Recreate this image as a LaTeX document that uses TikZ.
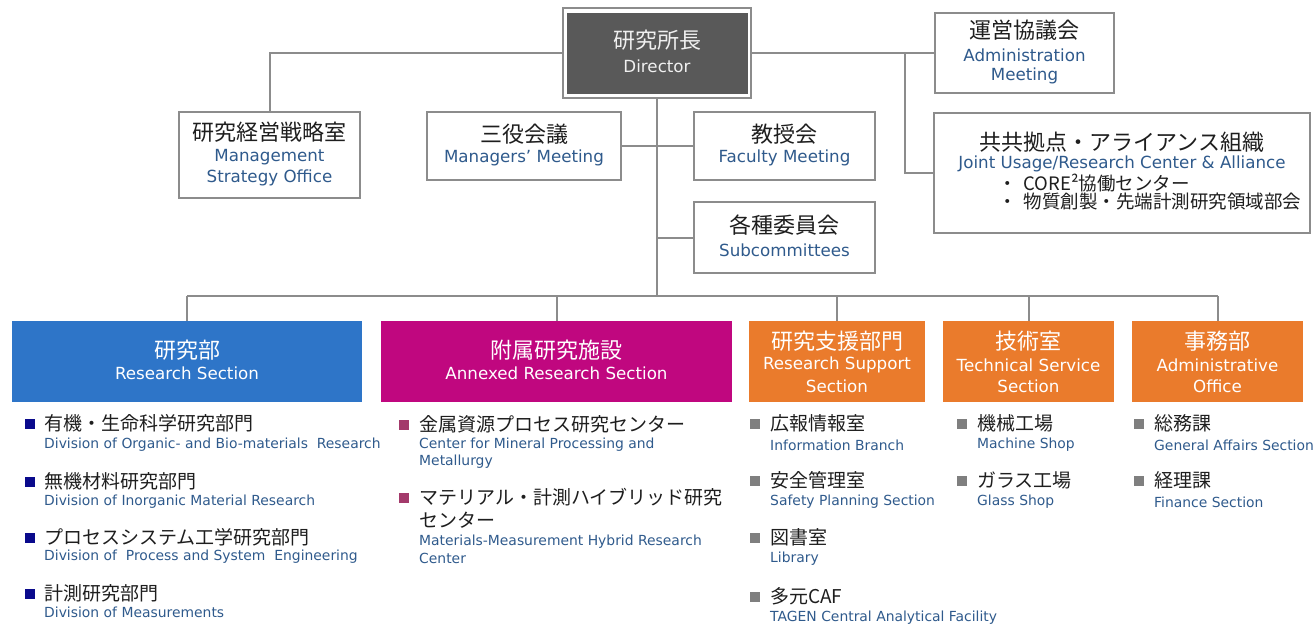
\documentclass[tikz,border=0pt]{standalone}
\usepackage{fontspec}
\setmainfont{DejaVu Sans}
\newfontfamily\jp{Noto Sans CJK JP}
\definecolor{linegray}{HTML}{8C8C8C}
\definecolor{dirfill}{HTML}{595959}
\definecolor{rsblue}{HTML}{2E75C8}
\definecolor{armag}{HTML}{C0077F}
\definecolor{orng}{HTML}{EA7B2C}
\definecolor{engblue}{HTML}{2F5A8C}
\definecolor{navy}{HTML}{0A0A8C}
\definecolor{plum}{HTML}{A33A6B}
\definecolor{sqgray}{HTML}{7F7F7F}
\definecolor{txt}{HTML}{1E1E1E}
\tikzset{
  box/.style={draw=linegray, line width=2pt, fill=white, rectangle, inner sep=0pt},
  sect/.style={rectangle, inner sep=0pt, minimum height=81pt},
  conn/.style={draw=linegray, line width=2pt},
  jpt/.style={font=\jp\fontsize{22}{26}\selectfont, text=txt, inner sep=0pt},
  ent/.style={font=\fontsize{16.7}{20}\selectfont, text=engblue, inner sep=0pt},
  wjp/.style={font=\jp\fontsize{22}{26}\selectfont, text=white, inner sep=0pt},
  wen/.style={font=\fontsize{16.7}{20}\selectfont, text=white, inner sep=0pt},
  jpi/.style={font=\jp\fontsize{19}{23}\selectfont, text=txt, anchor=west, inner sep=0pt},
  eni/.style={font=\fontsize{13.9}{16.5}\selectfont, text=engblue, anchor=west, inner sep=0pt},
  jps/.style={font=\jp\fontsize{18.5}{22}\selectfont, text=txt, anchor=west, inner sep=0pt},
  sq/.style={rectangle, minimum size=10pt, inner sep=0pt},
}
\begin{document}
\begin{tikzpicture}[x=1pt,y=-1pt]
\useasboundingbox (0,0) rectangle (1313,630);
% Director
\node[box, line width=1.6pt, minimum width=188pt, minimum height=90pt] (dir) at (657,53) {};
\node[rectangle, fill=dirfill, minimum width=181pt, minimum height=81pt, inner sep=0pt] (dirin) at (657.5,53.5) {};
\node[wjp, text=white!94!black] (dirjp) at (657,40) {研究所長};
\node[wen, text=white!94!black] (diren) at (657,66) {Director};
% top boxes
\node[box, minimum width=181pt, minimum height=86pt] (mso) at (269.5,155) {};
\node[jpt] (msojp) at (269.5,132) {研究経営戦略室};
\node[ent] (msoen1) at (269.5,157) {Management};
\node[ent] (msoen2) at (269.5,178) {Strategy Office};
\node[box, minimum width=194pt, minimum height=68pt] (sanyaku) at (524,146) {};
\node[jpt] (sanjp) at (524,134) {三役会議};
\node[ent] (sanen) at (524,158) {Managers’ Meeting};
\node[box, minimum width=181pt, minimum height=68pt] (kyoju) at (784.5,146) {};
\node[jpt] (kyojp) at (784.5,134) {教授会};
\node[ent] (kyoen) at (784.5,158) {Faculty Meeting};
\node[box, minimum width=181pt, minimum height=71pt] (iinkai) at (784.5,237.5) {};
\node[jpt] (iinjp) at (784.5,225) {各種委員会};
\node[ent] (iinen) at (784.5,250) {Subcommittees};
\node[box, minimum width=179pt, minimum height=80pt] (unei) at (1024.5,53) {};
\node[jpt] (unejp) at (1024.5,30) {運営協議会};
\node[ent] (uneen1) at (1024.5,55) {Administration};
\node[ent] (uneen2) at (1024.5,76) {Meeting};
\node[box, minimum width=376pt, minimum height=120pt] (joint) at (1122,173) {};
\node[jpt] (joijp) at (1122,142) {共共拠点・アライアンス組織};
\node[ent] (joien) at (1122,164) {Joint Usage/Research Center \& Alliance};
\node[jps] (joit1) at (998,183) {・\hspace{7pt}CORE²協働センター};
\node[jps] (joit2) at (998,201) {・\hspace{7pt}物質創製・先端計測研究領域部会};
% connectors
\coordinate (jr) at (905,53);
\coordinate (b1) at (657,146);
\coordinate (b2) at (657,237.5);
\coordinate (bus) at (657,296);
\coordinate (busL) at (187,296);
\coordinate (busR) at (1217.5,296);
\draw[conn] (dir.west) -| (mso.north);
\draw[conn] (dir.east) -- (unei.west);
\draw[conn] (jr) |- (joint.west);
\draw[conn] (dir.south) -- (bus);
\draw[conn] (b1) -- (sanyaku.east);
\draw[conn] (b1) -- (kyoju.west);
\draw[conn] (b2) -- (iinkai.west);
\draw[conn] (busL) -- (busR);
% sections
\node[sect, fill=rsblue, minimum width=350pt] (rs) at (187,361.5) {};
\node[wjp] (rsjp) at (187,350) {研究部};
\node[wen] (rsen) at (187,373) {Research Section};
\node[sect, fill=armag, minimum width=351pt] (ar) at (556.5,361.5) {};
\node[wjp] (arjp) at (556.5,350) {附属研究施設};
\node[wen] (aren) at (556.5,373) {Annexed Research Section};
\node[sect, fill=orng, minimum width=176pt] (rss) at (837,361.5) {};
\node[wjp] (rssjp) at (837,341) {研究支援部門};
\node[wen] (rssen1) at (837,365) {Research Support};
\node[wen] (rssen2) at (837,386) {Section};
\node[sect, fill=orng, minimum width=171pt] (tss) at (1028.5,361.5) {};
\node[wjp] (tssjp) at (1028.5,341) {技術室};
\node[wen] (tssen1) at (1028.5,365) {Technical Service};
\node[wen] (tssen2) at (1028.5,386) {Section};
\node[sect, fill=orng, minimum width=171pt] (ao) at (1217.5,361.5) {};
\node[wjp] (aojp) at (1217.5,341) {事務部};
\node[wen] (aoen1) at (1217.5,365) {Administrative};
\node[wen] (aoen2) at (1217.5,386) {Office};
\draw[conn] (rs.north) -- (rs.north |- busL);
\draw[conn] (ar.north) -- (ar.north |- busL);
\draw[conn] (rss.north) -- (rss.north |- busL);
\draw[conn] (tss.north) -- (tss.north |- busL);
\draw[conn] (ao.north) -- (ao.north |- busL);
% research section items
\node[sq, fill=navy] (rsq1) at (30,424) {};
\node[jpi] (ri1) at (44,423) {有機・生命科学研究部門};
\node[eni] (re1) at (44,445) {Division of Organic- and Bio-materials~ Research};
\node[sq, fill=navy] (rsq2) at (30,482) {};
\node[jpi] (ri2) at (44,481) {無機材料研究部門};
\node[eni] (re2) at (44,502) {Division of Inorganic Material Research};
\node[sq, fill=navy] (rsq3) at (30,538) {};
\node[jpi] (ri3) at (44,537) {プロセスシステム工学研究部門};
\node[eni] (re3) at (44,557) {Division of~ Process and System~ Engineering};
\node[sq, fill=navy] (rsq4) at (30,594) {};
\node[jpi] (ri4) at (44,593) {計測研究部門};
\node[eni] (re4) at (44,612) {Division of Measurements};
% annexed items
\node[sq, fill=plum] (asq1) at (404,425) {};
\node[jpi] (ai1) at (419,424) {金属資源プロセス研究センター};
\node[eni] (ae1a) at (419,445) {Center for Mineral Processing and};
\node[eni] (ae1b) at (419,462) {Metallurgy};
\node[sq, fill=plum] (asq2) at (404,498) {};
\node[jpi] (ai2a) at (419,497) {マテリアル・計測ハイブリッド研究};
\node[jpi] (ai2b) at (419,520) {センター};
\node[eni] (ae2a) at (419,542) {Materials-Measurement Hybrid Research};
\node[eni] (ae2b) at (419,558) {Center};
% research support items
\node[sq, fill=sqgray] (ssq1) at (755,424) {};
\node[jpi] (si1) at (770,423) {広報情報室};
\node[eni] (se1) at (770,445) {Information Branch};
\node[sq, fill=sqgray] (ssq2) at (755,481) {};
\node[jpi] (si2) at (770,480) {安全管理室};
\node[eni] (se2) at (770,502) {Safety Planning Section};
\node[sq, fill=sqgray] (ssq3) at (755,538) {};
\node[jpi] (si3) at (770,537) {図書室};
\node[eni] (se3) at (770,559) {Library};
\node[sq, fill=sqgray] (ssq4) at (755,597) {};
\node[jpi] (si4) at (770,596) {多元CAF};
\node[eni] (se4) at (770,618) {TAGEN Central Analytical Facility};
% technical service items
\node[sq, fill=sqgray] (tsq1) at (962,424) {};
\node[jpi] (ti1) at (977,423) {機械工場};
\node[eni] (te1) at (977,445) {Machine Shop};
\node[sq, fill=sqgray] (tsq2) at (962,481) {};
\node[jpi] (ti2) at (977,480) {ガラス工場};
\node[eni] (te2) at (977,502) {Glass Shop};
% administrative office items
\node[sq, fill=sqgray] (osq1) at (1139,424) {};
\node[jpi] (oi1) at (1154,423) {総務課};
\node[eni] (oe1) at (1154,445) {General Affairs Section};
\node[sq, fill=sqgray] (osq2) at (1139,481) {};
\node[jpi] (oi2) at (1154,480) {経理課};
\node[eni] (oe2) at (1154,502) {Finance Section};
\end{tikzpicture}
\end{document}
